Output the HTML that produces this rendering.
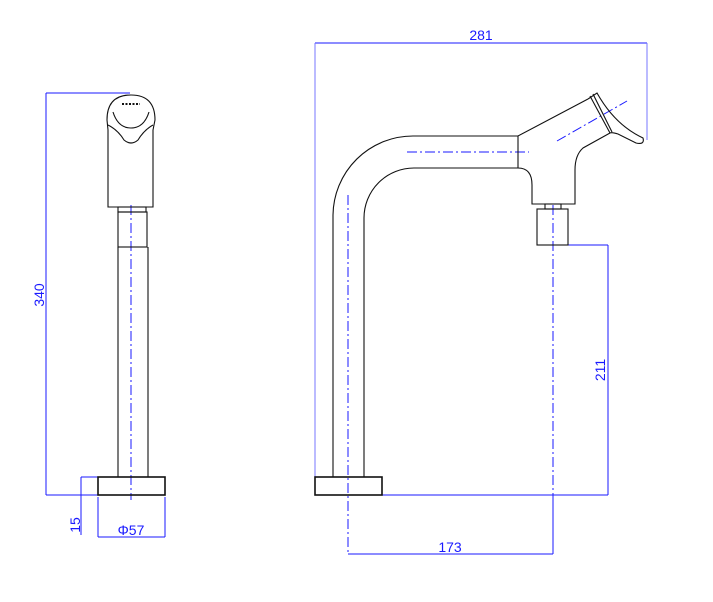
<!DOCTYPE html>
<html><head><meta charset="utf-8"><style>
html,body{margin:0;padding:0;background:#fff;width:713px;height:602px;overflow:hidden}
svg{display:block}
text{font-family:"Liberation Sans",sans-serif;font-size:14px;fill:#1a1aff}
</style></head><body>
<svg width="713" height="602" viewBox="0 0 713 602" xmlns="http://www.w3.org/2000/svg">
<g fill="none" stroke="#1a1aff" stroke-width="1">
<!-- 340 -->
<line x1="46" y1="93" x2="130" y2="93"/>
<line x1="46" y1="495" x2="98" y2="495"/>
<line x1="46" y1="93" x2="46" y2="495"/>
<!-- 15 -->
<line x1="81" y1="477" x2="98" y2="477"/>
<line x1="81" y1="477" x2="81" y2="535"/>
<!-- phi57 -->
<line x1="98" y1="497" x2="98" y2="537"/>
<line x1="165" y1="497" x2="165" y2="537"/>
<line x1="98" y1="537" x2="165" y2="537"/>
<!-- 281 -->
<line x1="315" y1="43" x2="647" y2="43"/>
<line x1="315" y1="43" x2="315" y2="477" stroke="#7777ff"/>
<line x1="647" y1="43" x2="647" y2="140" stroke="#7777ff"/>
<!-- 211 -->
<line x1="568" y1="245" x2="608" y2="245"/>
<line x1="382" y1="495" x2="608" y2="495"/>
<line x1="608" y1="245" x2="608" y2="495"/>
<!-- 173 -->
<line x1="348" y1="554" x2="553" y2="554"/>
<line x1="553" y1="495" x2="553" y2="554"/>
<!-- centerlines -->
<g stroke-dasharray="10,3,2,3">
<line x1="131" y1="205" x2="131" y2="500"/>
<line x1="407" y1="152" x2="529" y2="152"/>
<line x1="348" y1="195" x2="348" y2="554"/>
<line x1="553" y1="205" x2="553" y2="495"/>
<line x1="557" y1="141" x2="627" y2="101"/>
</g>
</g>
<g fill="none" stroke="#111" stroke-width="1.1">
<!-- left view -->
<path d="M107 120 Q107 95 131 95 Q155 95 155 120 L153 130 L153 207 L108 207 L108 130 Z"/>
<path d="M113 112 Q118 128 131 128 Q144 128 149 112"/>
<path d="M108 125 Q118 130 124 140 Q131 146 138 140 Q144 130 153 125"/>
<line x1="122" y1="104" x2="140" y2="104" stroke-dasharray="2,1.5" stroke-width="2"/>
<rect x="118" y="207" width="28" height="5"/>
<rect x="118" y="212" width="29" height="35"/>
<line x1="118" y1="247" x2="118" y2="477"/>
<line x1="148" y1="247" x2="148" y2="477"/>
<rect x="98" y="477" width="67" height="18" stroke-width="1.6"/>
<!-- right view -->
<rect x="315" y="477" width="67" height="18" stroke-width="1.6"/>
<path d="M333 477 L333 215 A80 80 0 0 1 413 136 L518 136 L588 99"/>
<path d="M364 477 L364 218 A50 50 0 0 1 414 168 L518 168 Q532 168 532 185 L532 204 L575 204 L575 170 Q575 155 583 148 L610 133"/>
<line x1="518" y1="136" x2="518" y2="168"/>
<path d="M588 99 L597 93 Q615 125 643 138 Q645 145 636 143 L618 134 Q612 132 610 133"/>
<line x1="590" y1="96" x2="610" y2="133"/>
<line x1="593" y1="94" x2="612" y2="132"/>
<rect x="545" y="204" width="16" height="5"/>
<rect x="537" y="209" width="31" height="36"/>
</g>
<text x="131" y="535" text-anchor="middle">Φ57</text>
<text x="481" y="40" text-anchor="middle">281</text>
<text x="450" y="552" text-anchor="middle">173</text>
<text transform="translate(44,295) rotate(-90)" text-anchor="middle">340</text>
<text transform="translate(80,525) rotate(-90)" text-anchor="middle">15</text>
<text transform="translate(605,370) rotate(-90)" text-anchor="middle">211</text>
</svg>
</body></html>
